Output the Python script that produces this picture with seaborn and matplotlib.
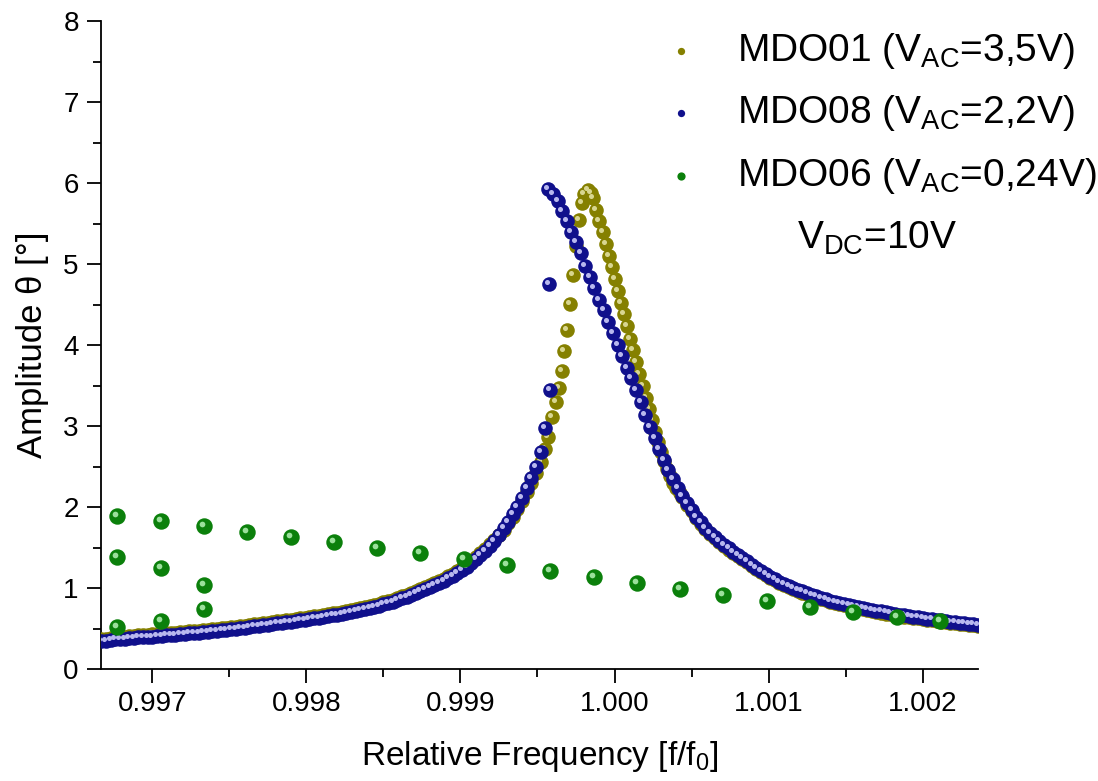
import numpy as np
import pandas as pd
import matplotlib
matplotlib.use("Agg")
import matplotlib.pyplot as plt
import matplotlib.transforms as mtransforms
from matplotlib.ticker import MultipleLocator, FormatStrFormatter
import seaborn as sns

# === Data: frequency offset in ppm (f/f0 = 1 + ppm*1e-6), amplitude in degrees ===

# MDO06 (green) - coarse sweep, the first three frequencies were measured 3 times
mdo06_ppm = [-3227, -2946, -2665, -2384, -2103, -1822, -1541, -1260, -979, -698,
             -417, -136, 145, 426, 707, 988, 1269, 1550, 1831, 2112,
             -3227, -2946, -2665, -3227, -2946, -2665]
mdo06_amp = [1.889, 1.827, 1.762, 1.695, 1.633, 1.564, 1.498, 1.43, 1.358, 1.284,
             1.21, 1.136, 1.058, 0.988, 0.914, 0.84, 0.77, 0.708, 0.646, 0.593,
             1.379, 1.243, 1.033, 0.515, 0.589, 0.737]

# MDO08 (blue) - lower branch (30 ppm steps), jump, upper branch (30 ppm steps)
mdo08_low_start = -3330
mdo08_low_amp = [0.345, 0.35, 0.36, 0.367, 0.372, 0.376, 0.38, 0.384, 0.389, 0.393,
                 0.397, 0.401, 0.406, 0.41, 0.415, 0.42, 0.425, 0.43, 0.435, 0.44,
                 0.445, 0.45, 0.455, 0.46, 0.466, 0.472, 0.478, 0.484, 0.49, 0.497,
                 0.504, 0.511, 0.518, 0.525, 0.533, 0.541, 0.549, 0.557, 0.565, 0.573,
                 0.58, 0.585, 0.592, 0.60, 0.608, 0.616, 0.625, 0.634, 0.643, 0.652,
                 0.662, 0.672, 0.682, 0.693, 0.704, 0.715, 0.727, 0.739, 0.752, 0.766,
                 0.781, 0.797, 0.814, 0.832, 0.851, 0.871, 0.892, 0.914, 0.937, 0.961,
                 0.985, 1.01, 1.035, 1.06, 1.09, 1.12, 1.15, 1.185, 1.225, 1.265,
                 1.31, 1.355, 1.405, 1.46, 1.52, 1.585, 1.655, 1.735, 1.82, 1.91,
                 2.0, 2.11, 2.23, 2.36, 2.50, 2.68, 2.97, 3.45]
mdo08_jump_ppm = [-424]
mdo08_jump_amp = [4.75]
mdo08_high_start = -430
mdo08_high_amp = [5.92, 5.87, 5.78, 5.66, 5.53, 5.40, 5.27, 5.13, 4.98, 4.84,
                  4.70, 4.56, 4.43, 4.29, 4.15, 4.00, 3.86, 3.72, 3.59, 3.45,
                  3.30, 3.14, 2.99, 2.85, 2.71, 2.58, 2.46, 2.35, 2.24, 2.14,
                  2.05, 1.96, 1.88, 1.81, 1.745, 1.685, 1.63, 1.58, 1.535, 1.49,
                  1.45, 1.41, 1.37, 1.33, 1.29, 1.25, 1.21, 1.175, 1.14, 1.11,
                  1.08, 1.055, 1.03, 1.005, 0.98, 0.958, 0.937, 0.917, 0.898, 0.88,
                  0.862, 0.845, 0.829, 0.814, 0.80, 0.787, 0.775, 0.763, 0.752, 0.741,
                  0.73, 0.72, 0.71, 0.70, 0.69, 0.681, 0.672, 0.663, 0.655, 0.647,
                  0.639, 0.631, 0.623, 0.615, 0.607, 0.60, 0.593, 0.586, 0.579, 0.572,
                  0.565, 0.558, 0.552, 0.546]

# MDO01 (olive)
mdo01_low_start = -3330
mdo01_low_amp = [0.37, 0.375, 0.385, 0.392, 0.397, 0.401, 0.405, 0.409, 0.414, 0.418,
                 0.422, 0.426, 0.431, 0.435, 0.44, 0.445, 0.45, 0.455, 0.46, 0.465,
                 0.47, 0.475, 0.48, 0.485, 0.491, 0.497, 0.503, 0.509, 0.515, 0.522,
                 0.529, 0.536, 0.543, 0.55, 0.558, 0.566, 0.574, 0.582, 0.59, 0.598,
                 0.605, 0.61, 0.617, 0.625, 0.633, 0.641, 0.65, 0.659, 0.668, 0.677,
                 0.687, 0.697, 0.707, 0.718, 0.729, 0.74, 0.752, 0.764, 0.777, 0.791,
                 0.806, 0.822, 0.839, 0.857, 0.876, 0.896, 0.917, 0.939, 0.962, 0.986,
                 1.01, 1.035, 1.06, 1.085, 1.115, 1.145, 1.175, 1.21, 1.25, 1.29,
                 1.335, 1.38, 1.43, 1.485, 1.54, 1.595,
                 1.65, 1.72, 1.80, 1.88, 1.97, 2.07, 2.18, 2.30, 2.42, 2.56, 2.72]
mdo01_jump_ppm = [-430, -405, -382, -360, -343, -326, -307, -289, -272, -250,
                  -228, -214, -195, -175, -155, -138]
mdo01_jump_amp = [2.87, 3.11, 3.30, 3.47, 3.68, 3.92, 4.19, 4.51, 4.86, 5.22,
                  5.54, 5.75, 5.87, 5.91, 5.88, 5.81]
mdo01_desc_start = -118   # 20 ppm steps
mdo01_desc_amp = [5.67, 5.53, 5.39, 5.25, 5.10, 4.96, 4.82, 4.67, 4.52, 4.38,
                  4.23, 4.08, 3.94, 3.79, 3.64, 3.50, 3.35, 3.21, 3.07, 2.93,
                  2.80, 2.68, 2.57, 2.47, 2.38, 2.30, 2.23, 2.17]
mdo01_tail_start = 440    # 30 ppm steps
mdo01_tail_amp = [2.12, 2.03, 1.945, 1.865, 1.795, 1.73, 1.67, 1.615, 1.565, 1.52,
                  1.475, 1.435, 1.395, 1.355, 1.315, 1.275, 1.235, 1.195, 1.16, 1.125,
                  1.095, 1.065, 1.04, 1.015, 0.99, 0.965, 0.943, 0.922, 0.902, 0.883,
                  0.865, 0.847, 0.83, 0.814, 0.799, 0.785, 0.772, 0.76, 0.748, 0.737,
                  0.726, 0.715, 0.705, 0.695, 0.685, 0.675, 0.666, 0.657, 0.648, 0.64,
                  0.632, 0.624, 0.616, 0.608, 0.60, 0.592, 0.585, 0.578, 0.571, 0.564,
                  0.557, 0.55, 0.544, 0.538, 0.532]


def sweep(start, step, amps):
    return list(start + step * np.arange(len(amps)))


def to_df(ppm, amp):
    return pd.DataFrame({"f": 1 + np.array(ppm) * 1e-6, "amp": amp})


df01 = to_df(sweep(mdo01_low_start, 30, mdo01_low_amp) + mdo01_jump_ppm
             + sweep(mdo01_desc_start, 20, mdo01_desc_amp)
             + sweep(mdo01_tail_start, 30, mdo01_tail_amp),
             mdo01_low_amp + mdo01_jump_amp + mdo01_desc_amp + mdo01_tail_amp)
df08 = to_df(sweep(mdo08_low_start, 30, mdo08_low_amp) + mdo08_jump_ppm
             + sweep(mdo08_high_start, 30, mdo08_high_amp),
             mdo08_low_amp + mdo08_jump_amp + mdo08_high_amp)
df06 = to_df(mdo06_ppm, mdo06_amp)

# === Figure ===
sns.set_style("ticks")
plt.rcParams["font.family"] = ["Liberation Sans", "DejaVu Sans"]
plt.rcParams["mathtext.fontset"] = "custom"
plt.rcParams["mathtext.rm"] = "Liberation Sans"
plt.rcParams["text.color"] = "black"
plt.rcParams["axes.labelcolor"] = "black"

fig, ax = plt.subplots(figsize=(10.98, 7.81), dpi=100)
fig.subplots_adjust(left=0.092, right=0.8904, bottom=0.1434, top=0.9731)

shine = mtransforms.offset_copy(ax.transData, fig=fig, x=-2, y=2, units="dots")

series = [
    (df01, "#858000", "#d8d690", 110, r"MDO01 (V$_{\mathregular{AC}}$=3,5V)"),
    (df08, "#10108c", "#b8b8ee", 110, r"MDO08 (V$_{\mathregular{AC}}$=2,2V)"),
    (df06, "#0b800b", "#9be09b", 140, r"MDO06 (V$_{\mathregular{AC}}$=0,24V)"),
]
for z, (d, base, light, size, label) in enumerate(series):
    sns.scatterplot(data=d, x="f", y="amp", color=base, s=size, linewidth=0,
                    ax=ax, label=label, zorder=3 + z)
    sns.scatterplot(data=d, x="f", y="amp", color=light, s=size * 0.12, linewidth=0,
                    ax=ax, legend=False, transform=shine, zorder=3.5 + z)

ax.set_xlim(0.996667, 1.002357)
ax.set_ylim(0, 8)
ax.xaxis.set_major_locator(MultipleLocator(0.001))
ax.xaxis.set_minor_locator(MultipleLocator(0.0005))
ax.xaxis.set_major_formatter(FormatStrFormatter("%.3f"))
ax.yaxis.set_major_locator(MultipleLocator(1))
ax.yaxis.set_minor_locator(MultipleLocator(0.5))

sns.despine(ax=ax)
for sp in ["left", "bottom"]:
    ax.spines[sp].set_linewidth(1.3)
    ax.spines[sp].set_color("black")
ax.tick_params(which="major", direction="out", length=10, width=1.3, color="black",
               labelcolor="black", labelsize=20, pad=6)
ax.tick_params(which="minor", direction="out", length=6, width=1.3, color="black")

ax.set_xlabel(r"Relative Frequency [f/f$_{\mathregular{0}}$]", fontsize=24, labelpad=16)
ax.set_ylabel("Amplitude θ [°]", fontsize=25, labelpad=10)

leg = ax.legend(loc="upper left", bbox_to_anchor=(0.6394, 0.985), frameon=False,
                fontsize=28, markerscale=0.5, handlelength=1.0, handletextpad=0.94,
                borderpad=0, borderaxespad=0, labelspacing=0.58)
ax.text(0.885, 0.648, r"V$_{\mathregular{DC}}$=10V", transform=ax.transAxes,
        fontsize=28, ha="center", va="baseline")

plt.savefig("out.png", dpi=100)
plt.close()
